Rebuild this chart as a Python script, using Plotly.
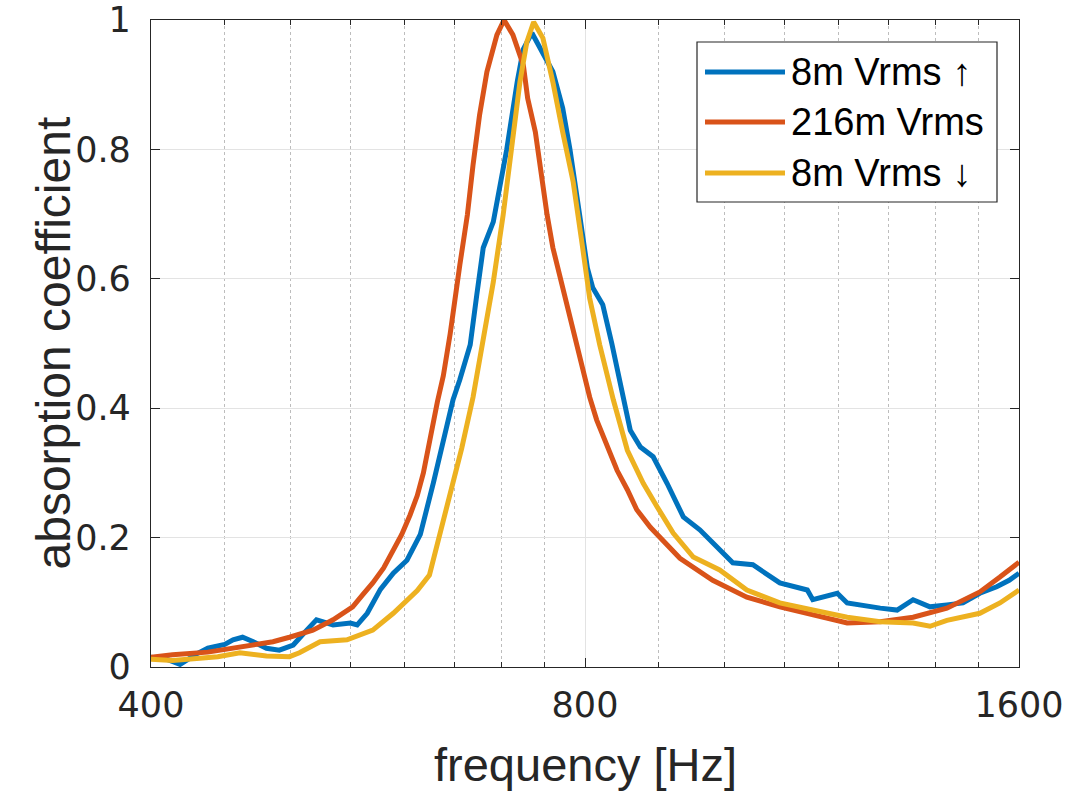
import plotly.graph_objects as go

# ---------------- data ----------------
freq_up = [400, 410, 419, 430, 438, 450, 456, 463, 471, 481, 491, 502, 513, 521, 535, 550,
           556, 565, 577, 589, 602, 615, 628, 640, 648, 655, 666, 673, 680, 691, 706, 718,
           725, 735, 748, 760, 772, 781, 793, 803, 810, 823, 835, 846, 860, 874, 892, 912,
           936, 961, 988, 1013, 1046, 1080, 1092, 1141, 1151, 1197, 1216, 1282, 1317, 1351,
           1388, 1426, 1463, 1503, 1544, 1575, 1600]
alpha_up = [0.015, 0.012, 0.004, 0.020, 0.029, 0.035, 0.042, 0.046, 0.039, 0.029, 0.026, 0.034,
            0.057, 0.073, 0.065, 0.068, 0.065, 0.083, 0.120, 0.145, 0.165, 0.205, 0.285, 0.366,
            0.413, 0.444, 0.498, 0.575, 0.648, 0.688, 0.800, 0.905, 0.955, 0.980, 0.950, 0.920,
            0.864, 0.800, 0.700, 0.617, 0.586, 0.560, 0.500, 0.444, 0.366, 0.340, 0.325, 0.284,
            0.232, 0.212, 0.185, 0.161, 0.158, 0.138, 0.130, 0.119, 0.104, 0.114, 0.099, 0.091,
            0.088, 0.104, 0.093, 0.096, 0.099, 0.114, 0.124, 0.134, 0.145]

freq_high = [400, 414, 438, 461, 486, 499, 518, 535, 552, 561, 570, 580, 589, 597, 605, 612,
             618, 625, 632, 638, 645, 655, 663, 669, 676, 684, 695, 703, 713, 725, 730, 739,
             747, 753, 760, 772, 785, 797, 806, 815, 829, 842, 856, 869, 888, 906, 931, 981,
             1036, 1092, 1151, 1216, 1282, 1351, 1426, 1503, 1552, 1600]
alpha_high = [0.015, 0.019, 0.023, 0.031, 0.039, 0.046, 0.057, 0.073, 0.093, 0.112, 0.130,
              0.153, 0.180, 0.205, 0.235, 0.265, 0.300, 0.360, 0.410, 0.450, 0.515, 0.621,
              0.699, 0.776, 0.853, 0.920, 0.977, 1.000, 0.977, 0.930, 0.879, 0.827, 0.750,
              0.699, 0.648, 0.586, 0.518, 0.459, 0.417, 0.382, 0.340, 0.304, 0.274, 0.243,
              0.216, 0.196, 0.168, 0.134, 0.108, 0.093, 0.080, 0.068, 0.070, 0.077, 0.091,
              0.116, 0.139, 0.162]

freq_down = [400, 414, 445, 461, 481, 499, 507, 524, 547, 570, 589, 600, 612, 624, 632, 643,
             657, 669, 680, 691, 702, 713, 721, 729, 737, 748, 760, 772, 785, 797, 806, 819,
             837, 856, 878, 898, 921, 951, 992, 1036, 1092, 1151, 1216, 1282, 1351, 1388, 1426,
             1503, 1552, 1600]
alpha_down = [0.012, 0.010, 0.016, 0.022, 0.017, 0.016, 0.022, 0.039, 0.042, 0.057, 0.083,
              0.100, 0.118, 0.142, 0.190, 0.260, 0.338, 0.417, 0.510, 0.595, 0.699, 0.827,
              0.904, 0.966, 0.997, 0.972, 0.904, 0.827, 0.750, 0.648, 0.570, 0.498, 0.413,
              0.335, 0.284, 0.247, 0.207, 0.170, 0.150, 0.119, 0.099, 0.088, 0.077, 0.070,
              0.068, 0.063, 0.072, 0.083, 0.099, 0.119]

series_names = ["8m Vrms \u2191", "216m Vrms", "8m Vrms \u2193"]
series_colors = ["#0072BD", "#D95319", "#EDB120"]

x_major_ticks = [400, 800, 1600]
x_minor_ticks = [450, 500, 550, 600, 650, 700, 750, 900, 1000, 1100, 1200, 1300, 1400, 1500]
y_ticks = [0, 0.2, 0.4, 0.6, 0.8, 1]
y_tick_labels = ["0", "0.2", "0.4", "0.6", "0.8", "1"]

# ---------------- figure ----------------
FONT = "Liberation Sans, Arial, sans-serif"
TICKFONT = "DejaVu Sans, Liberation Sans, sans-serif"
TXT = "#262626"

fig = go.Figure()
for fx, fy, name, col in zip([freq_up, freq_high, freq_down],
                             [alpha_up, alpha_high, alpha_down],
                             series_names, series_colors):
    fig.add_trace(go.Scatter(x=fx, y=fy, mode="lines", name=name,
                             line=dict(color=col, width=5), showlegend=False))

fig.update_layout(
    width=1092, height=797,
    margin=dict(l=151, r=73, t=20, b=130, autoexpand=False),
    paper_bgcolor="white", plot_bgcolor="white",
    font=dict(family=FONT, color=TXT, size=40),
)

fig.update_xaxes(
    type="log", range=[2.60206, 3.20412], automargin=False,
    tickmode="array", tickvals=x_major_ticks, ticktext=[str(v) for v in x_major_ticks],
    ticks="inside", ticklen=9, tickwidth=1.3, tickcolor=TXT,
    showline=True, linecolor=TXT, linewidth=1.3, mirror="ticks",
    showgrid=True, gridcolor="#e3e3e3", gridwidth=1,
    tickfont=dict(size=35, color=TXT, family=TICKFONT),
    ticklabelstandoff=7,
    minor=dict(tickmode="array", tickvals=x_minor_ticks, ticks="inside", ticklen=5,
               tickwidth=1.2, tickcolor=TXT, showgrid=True, gridcolor="#bdbdbd",
               griddash="dot", gridwidth=1),
    zeroline=False,
)
fig.update_yaxes(
    range=[0, 1], automargin=False, tickmode="array", tickvals=y_ticks, ticktext=y_tick_labels,
    ticks="inside", ticklen=9, tickwidth=1.3, tickcolor=TXT,
    showline=True, linecolor=TXT, linewidth=1.3, mirror="ticks",
    showgrid=True, gridcolor="#e3e3e3", gridwidth=1,
    tickfont=dict(size=35, color=TXT, family=TICKFONT),
    ticklabelstandoff=12, ticklabeloverflow="allow",
    zeroline=False,
)

# ---------------- pixel helpers for layout placement ----------------
px0, pw, py0, ph = 151, 868, 667, 647
def xp(px):
    return (px - px0) / pw
def yp(py):
    return (py0 - py) / ph

# axis titles
fig.add_annotation(xref="paper", yref="paper", x=0.5, y=yp(764),
                   text="frequency [Hz]", showarrow=False,
                   xanchor="center", yanchor="middle",
                   font=dict(size=47, color=TXT, family=FONT))
fig.add_annotation(xref="paper", yref="paper", x=xp(53), y=0.5, textangle=-90,
                   text="absorption coefficient", showarrow=False,
                   xanchor="center", yanchor="middle",
                   font=dict(size=48, color=TXT, family=FONT))

# ---------------- legend (drawn to match the reference box) ----------------
fig.add_shape(type="rect", xref="paper", yref="paper",
              x0=xp(697), x1=xp(997), y0=yp(202), y1=yp(42),
              line=dict(color=TXT, width=1.2), fillcolor="white", layer="above")
row_y = [72, 122, 173]
for name, col, ry in zip(series_names, series_colors, row_y):
    fig.add_shape(type="line", xref="paper", yref="paper",
                  x0=xp(705), x1=xp(785), y0=yp(ry), y1=yp(ry),
                  line=dict(color=col, width=5), layer="above")
    fig.add_annotation(xref="paper", yref="paper", x=xp(789), y=yp(ry),
                       text=name, showarrow=False, xanchor="left", yanchor="middle",
                       font=dict(size=38, color="black", family=FONT))

fig.write_html("out.html")
